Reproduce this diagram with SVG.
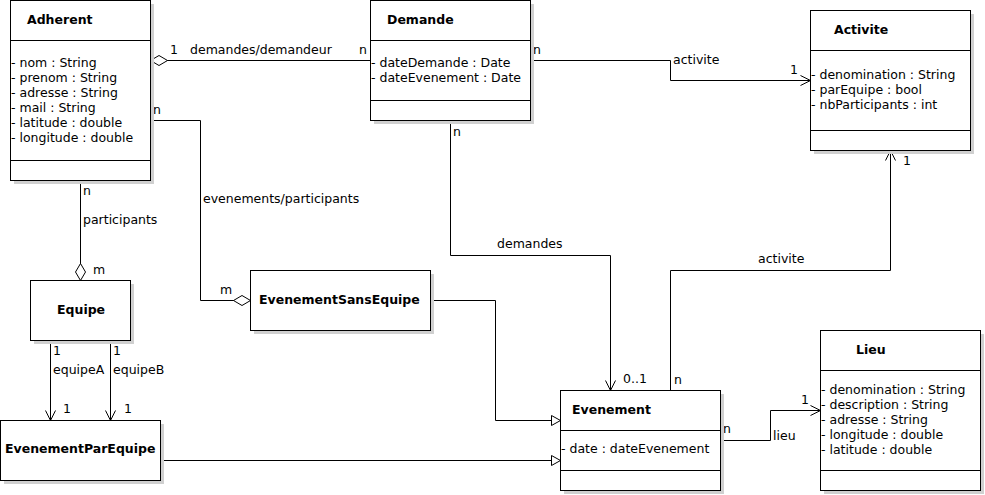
<svg xmlns="http://www.w3.org/2000/svg" width="985" height="495" viewBox="0 0 985 495">
<style>
text{font-family:"DejaVu Sans","Liberation Sans",sans-serif;font-size:12.5px;fill:#000}
.t{font-weight:bold}
.box{fill:#fff;stroke:#000;stroke-width:1}
.sh{fill:#d0d0d0;stroke:none}
.ln{fill:none;stroke:#000;stroke-width:1}
.c{fill:none;stroke:#000;stroke-width:1}
</style>
<defs>
<marker id="open" markerUnits="userSpaceOnUse" viewBox="-20 -10 40 20" markerWidth="40" markerHeight="20" refX="0" refY="0" orient="auto" overflow="visible">
<path d="M-10,-5 L0,0 L-10,5" fill="none" stroke="#000" stroke-width="1"/>
</marker>
<marker id="tri" markerUnits="userSpaceOnUse" viewBox="-20 -10 40 20" markerWidth="40" markerHeight="20" refX="0" refY="0" orient="auto" overflow="visible">
<path d="M-9,-5 L0,0 L-9,5 Z" fill="#fff" stroke="#000" stroke-width="1"/>
</marker>
<marker id="dia" markerUnits="userSpaceOnUse" viewBox="-20 -10 40 20" markerWidth="40" markerHeight="20" refX="0" refY="0" orient="auto" overflow="visible">
<path d="M0,0 L8.5,-5 L17,0 L8.5,5 Z" fill="#fff" stroke="#000" stroke-width="1"/>
</marker>
</defs>
<rect width="985" height="495" fill="#fff"/>

<g id="connectors">
<g transform="translate(0.5,0.5)">
<polyline class="c" points="150,60 370,60" marker-start="url(#dia)"/>
<polyline class="c" points="250,300 200,300 200,120 150,120" marker-start="url(#dia)"/>
<polyline class="c" points="80,280 80,180" marker-start="url(#dia)"/>
<polyline class="c" points="50,340 50,420" marker-end="url(#open)"/>
<polyline class="c" points="110,340 110,420" marker-end="url(#open)"/>
<polyline class="c" points="160,460 560,460" marker-end="url(#tri)"/>
<polyline class="c" points="430,300 495,300 495,420 560,420" marker-end="url(#tri)"/>
<polyline class="c" points="530,60 670,60 670,80 810,80" marker-end="url(#open)"/>
<polyline class="c" points="450,120 450,255 610,255 610,390" marker-end="url(#open)"/>
<polyline class="c" points="670,390 670,270 890,270 890,150" marker-end="url(#open)"/>
<polyline class="c" points="720,440 770,440 770,410 820,410" marker-end="url(#open)"/>
</g>
<text x="170" y="54">1</text>
<text x="190" y="54">demandes/demandeur</text>
<text x="359" y="54">n</text>
<text x="153" y="114">n</text>
<text x="203" y="203">evenements/participants</text>
<text x="220" y="294">m</text>
<text x="83" y="195">n</text>
<text x="83" y="224">participants</text>
<text x="93" y="274">m</text>
<text x="53" y="355">1</text>
<text x="53" y="374">equipeA</text>
<text x="113" y="355">1</text>
<text x="113" y="374">equipeB</text>
<text x="63" y="413">1</text>
<text x="124" y="413">1</text>
<text x="533" y="54">n</text>
<text x="673" y="64">activite</text>
<text x="790" y="74">1</text>
<text x="453" y="136">n</text>
<text x="497" y="248">demandes</text>
<text x="623" y="383">0..1</text>
<text x="674" y="384">n</text>
<text x="758" y="263">activite</text>
<text x="903" y="165">1</text>
<text x="723" y="433">n</text>
<text x="773" y="440">lieu</text>
<text x="801" y="404">1</text>
</g>

<g id="Adherent">
<rect class="sh" x="14" y="4" width="140" height="180"/>
<g transform="translate(0.5,0.5)">
<rect class="box" x="10" y="0" width="140" height="180"/>
<path class="ln" d="M10,40 H150 M10,160 H150"/>
</g>
<text class="t" x="27" y="24">Adherent</text>
<text x="11" y="67">- nom : String</text>
<text x="11" y="82">- prenom : String</text>
<text x="11" y="97">- adresse : String</text>
<text x="11" y="112">- mail : String</text>
<text x="11" y="127">- latitude : double</text>
<text x="11" y="142">- longitude : double</text>
</g>

<g id="Demande">
<rect class="sh" x="374" y="4" width="160" height="120"/>
<g transform="translate(0.5,0.5)">
<rect class="box" x="370" y="0" width="160" height="120"/>
<path class="ln" d="M370,40 H530 M370,100 H530"/>
</g>
<text class="t" x="387" y="24">Demande</text>
<text x="371" y="67">- dateDemande : Date</text>
<text x="371" y="82">- dateEvenement : Date</text>
</g>

<g id="Activite">
<rect class="sh" x="814" y="14" width="160" height="140"/>
<g transform="translate(0.5,0.5)">
<rect class="box" x="810" y="10" width="160" height="140"/>
<path class="ln" d="M810,50 H970 M810,130 H970"/>
</g>
<text class="t" x="834" y="34">Activite</text>
<text x="811" y="79">- denomination : String</text>
<text x="811" y="94">- parEquipe : bool</text>
<text x="811" y="109">- nbParticipants : int</text>
</g>

<g id="Equipe">
<rect class="sh" x="34" y="284" width="100" height="60"/>
<g transform="translate(0.5,0.5)">
<rect class="box" x="30" y="280" width="100" height="60"/>
</g>
<text class="t" x="57" y="314">Equipe</text>
</g>

<g id="EvenementSansEquipe">
<rect class="sh" x="254" y="274" width="180" height="60"/>
<g transform="translate(0.5,0.5)">
<rect class="box" x="250" y="270" width="180" height="60"/>
</g>
<text class="t" x="259" y="304">EvenementSansEquipe</text>
</g>

<g id="EvenementParEquipe">
<rect class="sh" x="4" y="424" width="160" height="60"/>
<g transform="translate(0.5,0.5)">
<rect class="box" x="0" y="420" width="160" height="60"/>
</g>
<text class="t" x="5" y="453">EvenementParEquipe</text>
</g>

<g id="Evenement">
<rect class="sh" x="564" y="394" width="160" height="100"/>
<g transform="translate(0.5,0.5)">
<rect class="box" x="560" y="390" width="160" height="100"/>
<path class="ln" d="M560,430 H720 M560,470 H720"/>
</g>
<text class="t" x="572" y="414">Evenement</text>
<text x="561" y="453">- date : dateEvenement</text>
</g>

<g id="Lieu">
<rect class="sh" x="824" y="334" width="160" height="160"/>
<g transform="translate(0.5,0.5)">
<rect class="box" x="820" y="330" width="160" height="160"/>
<path class="ln" d="M820,370 H980 M820,470 H980"/>
</g>
<text class="t" x="856" y="354">Lieu</text>
<text x="821" y="394">- denomination : String</text>
<text x="821" y="409">- description : String</text>
<text x="821" y="424">- adresse : String</text>
<text x="821" y="439">- longitude : double</text>
<text x="821" y="454">- latitude : double</text>
</g>
</svg>
